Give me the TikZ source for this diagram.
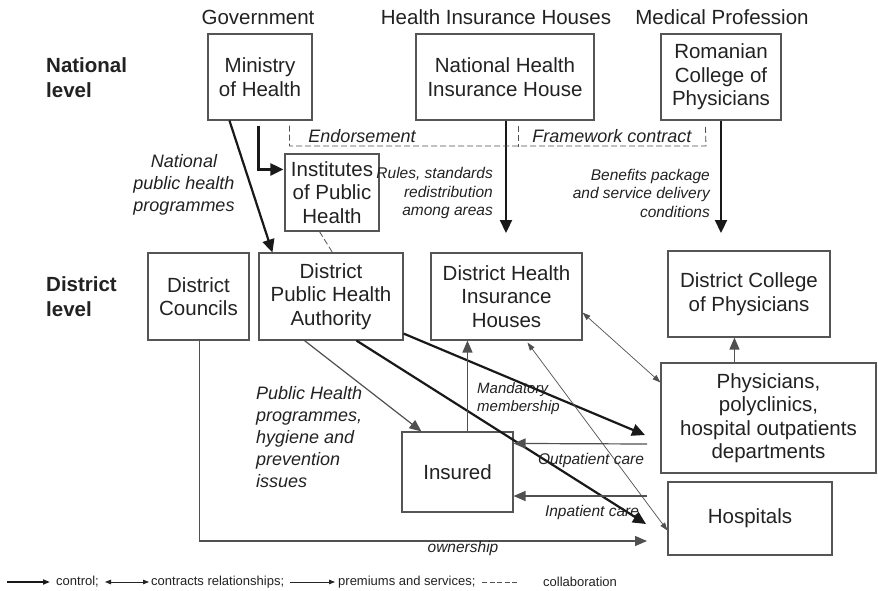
\documentclass[tikz,border=0pt]{standalone}
\usepackage{fontspec}
\setmainfont{Liberation Sans}
\usetikzlibrary{arrows.meta,calc}
\definecolor{boxgray}{HTML}{555555}
\definecolor{txt}{HTML}{222222}
\definecolor{linegray}{HTML}{505050}
\begin{document}
\begin{tikzpicture}[x=1pt,y=-1pt,
  box/.style={draw=boxgray,line width=1.1pt,inner sep=0pt,align=center,text=txt,font=\fontsize{20.5}{23.5}\selectfont},
  head/.style={inner sep=0pt,text=txt,font=\fontsize{20.5}{23.5}\selectfont},
  lvl/.style={inner sep=0pt,text=txt,anchor=west,align=left,font=\fontsize{20.5}{25}\selectfont\bfseries},
  lbig/.style={inner sep=0pt,text=txt,font=\fontsize{18}{22}\selectfont\itshape},
  lsmall/.style={inner sep=0pt,text=txt,font=\fontsize{15.5}{18.5}\selectfont\itshape},
  leg/.style={inner sep=0pt,text=txt,anchor=west,font=\fontsize{13}{15}\selectfont},
  control/.style={line width=2.2pt,draw=black!90,-{Triangle[length=13pt,width=12pt]}},
  prem/.style={line width=1.2pt,draw=linegray,-{Triangle[length=12pt,width=10pt]}},
  contract/.style={line width=0.7pt,draw=linegray,{Triangle[length=8pt,width=5.5pt]}-{Triangle[length=8pt,width=5.5pt]}},
  collab/.style={line width=0.8pt,draw=linegray,dash pattern=on 6pt off 3pt}
]
\useasboundingbox (0,0) rectangle (878,590);
\fill[white] (0,0) rectangle (878,590);

% column headings
\node[head] (hgov) at (258,17) {Government};
\node[head] (hins) at (496,17) {Health Insurance Houses};
\node[head] (hmed) at (722,17) {Medical Profession};

% levels
\node[lvl] (lnat) at (46,77.5) {National\\level};
\node[lvl] (ldis) at (46,296.5) {District\\level};

% boxes
\node[box,minimum width=104pt,minimum height=86pt] (moh) at (260,77) {Ministry\\of Health};
\node[box,minimum width=178pt,minimum height=86pt] (nhih) at (505,77) {National Health\\Insurance House};
\node[box,minimum width=120pt,minimum height=86pt] (rcp) at (721,77) {Romanian\\College of\\Physicians};
\node[box,minimum width=94pt,minimum height=77pt] (iph) at (332,192.5) {Institutes\\of Public\\Health};
\node[box,minimum width=101pt,minimum height=87pt] (dc) at (198.5,296.5) {District\\Councils};
\node[box,minimum width=144pt,minimum height=87pt] (dpha) at (331,296.5) {District\\Public Health\\Authority};
\node[box,minimum width=151pt,minimum height=87pt] (dhih) at (506.5,296.5) {District Health\\Insurance\\Houses};
\node[box,minimum width=162pt,minimum height=86pt] (dcp) at (749,294) {District College\\of Physicians};
\node[box,minimum width=215pt,minimum height=110pt] (phys) at (768.5,418) {Physicians,\\polyclinics,\\hospital outpatients\\departments};
\node[box,minimum width=164pt,minimum height=73pt] (hosp) at (750,518.5) {Hospitals};
\node[box,minimum width=111pt,minimum height=80pt] (ins) at (457.5,472) {Insured};

% free ends
\coordinate (nhihend) at (506,233);
\coordinate (rcpend) at (721,233);
\coordinate (endr) at (706,146);
\coordinate (physin) at (645,435);
\coordinate (hospin) at (646,524);
\coordinate (outp) at (647,444);
\coordinate (inp) at (647,496);
\coordinate (ownend) at (647,541);

% national level connectors
\draw[control] ($(moh.south west)+(51,5)$) |- ($(iph.north west)+(-1,16)$);
\draw[control] ($(moh.south west)+(22,0)$) -- ($(dpha.north west)+(14,0)$);
\draw[collab] ($(iph.south west)+(35,0)$) -- ($(dpha.north west)+(74,0)$);
\draw[control] ($(nhih.south)+(1,0)$) -- (nhihend);
\draw[control] (rcp.south) -- (rcpend);
\draw[collab] ($(moh.south east)+(-23,5)$) |- (endr) -- ($(rcp.south west)+(45,5)$);
\draw[collab] ($(nhih.south west)+(103,5)$) -- ($(nhih.south west)+(103,26)$);

% district level connectors
\draw[prem] ($(dpha.south west)+(46,0)$) -- ($(ins.north west)+(20,0)$);
\draw[control] ($(dpha.south east)+(0,-7)$) -- (physin);
\draw[control] ($(dpha.south west)+(98,0)$) -- (hospin);
\draw[prem] ($(ins.north west)+(66,0)$) -- ($(dhih.south west)+(37,0)$);
\draw[contract] ($(dhih.south east)+(0,-28)$) -- ($(phys.north west)+(0,20)$);
\draw[contract] ($(dhih.south west)+(97,2)$) -- ($(hosp.south west)+(0,-25)$);
\draw[prem] (outp) -- ($(ins.north east)+(0,12)$);
\draw[prem] (inp) -- ($(ins.east)+(0,24)$);
\draw[prem] ($(dc.south west)+(52,0)$) |- (ownend);
\draw[prem] ($(phys.north west)+(74,0)$) -- ($(dcp.south west)+(67,0)$);

% labels
\node[lbig,align=center] (lnphp) at (184,185) {National\\public health\\programmes};
\node[lbig] (lend) at (362,136) {Endorsement};
\node[lbig] (lfw) at (612,136) {Framework contract};
\node[lsmall,align=right,anchor=east] (lrules) at (493,193) {Rules, standards\\redistribution\\among areas};
\node[lsmall,align=right,anchor=east] (lben) at (710,193) {Benefits package\\and service delivery\\conditions};
\node[lbig,align=left,anchor=west] (lphp) at (256,437) {Public Health\\programmes,\\hygiene and\\prevention\\issues};
\node[lsmall,align=left,anchor=west,font=\fontsize{15}{18}\selectfont\itshape] (lmand) at (477,399) {Mandatory\\membership};
\node[lsmall] (lout) at (591,460) {Outpatient care};
\node[lsmall] (linp) at (592,512) {Inpatient care};
\node[lsmall] (lown) at (463,548) {ownership};

% legend
\coordinate (lg1a) at (7,582); \coordinate (lg1b) at (50,582);
\coordinate (lg2a) at (105,582); \coordinate (lg2b) at (149,582);
\coordinate (lg3a) at (290,582); \coordinate (lg3b) at (335,582);
\coordinate (lg4a) at (482,582); \coordinate (lg4b) at (518,582);
\draw[line width=1.6pt,draw=black!90,-{Triangle[length=7pt,width=5pt]}] (lg1a) -- (lg1b);
\node[leg] (tcontrol) at (56,582) {control;};
\draw[line width=0.8pt,draw=black!85,{Triangle[length=6pt,width=4.5pt]}-{Triangle[length=6pt,width=4.5pt]}] (lg2a) -- (lg2b);
\node[leg] (tcontract) at (151,582) {contracts relationships;};
\draw[line width=0.8pt,draw=black!85,-{Triangle[length=6pt,width=4.5pt]}] (lg3a) -- (lg3b);
\node[leg] (tprem) at (338,582) {premiums and services;};
\draw[collab,line width=0.7pt,dash pattern=on 5pt off 2.5pt] (lg4a) -- (lg4b);
\node[leg] (tcollab) at (543,582) {collaboration};
\end{tikzpicture}
\end{document}
